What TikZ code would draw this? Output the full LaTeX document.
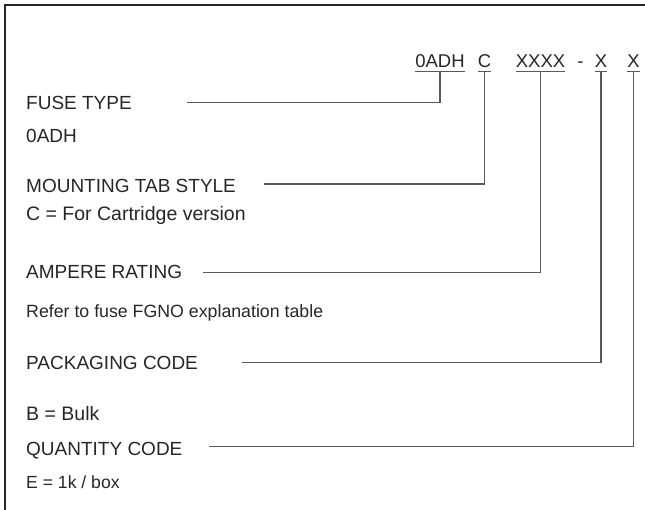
\documentclass[tikz,border=0pt]{standalone}
\usepackage{fontspec}
\setmainfont{Liberation Sans}
\usetikzlibrary{positioning,calc}

\tikzset{
  lbl/.style={anchor=base west, inner sep=0pt, text=black!85},
  part/.style={anchor=base, inner sep=0pt, text=black!85, font=\fontsize{18.5}{22}\selectfont},
  lead/.style={draw=black!65, line width=1.3pt},
}

\begin{document}
\begin{tikzpicture}[x=1pt,y=-1pt]
    \useasboundingbox (0,0) rectangle (645,510);
    \draw[line width=1.6pt, black!85] (5,510) -- (5,5) -- (645,5);

    % part number
    \node[part] (p1) at (440,68) {0ADH};
    \node[part] (p2) at (484.5,68) {C};
    \node[part] (p3) at (540.5,68) {XXXX};
    \node[part] (dash) at (580.5,68) {-};
    \node[part] (p4) at (601,68) {X};
    \node[part] (p5) at (633.5,68) {X};
    \foreach \p in {p1,p2,p3,p4,p5}
        \draw[lead] ([yshift=-3.5pt]\p.base west) -- ([yshift=-3.5pt]\p.base east);

    % field names
    \foreach \n/\y/\t in {ft/109.5/FUSE TYPE, mt/192.3/MOUNTING TAB STYLE, ar/278.3/AMPERE RATING, pc/369.3/PACKAGING CODE, qc/455/QUANTITY CODE}
        \node[lbl, font=\fontsize{19}{22}\selectfont] (\n) at (26,\y) {\t};
    % field values
    \foreach \n/\y/\s/\t in {ftd/143/19/0ADH, mtd/220.7/19.5/C = For Cartridge version, ard/318/17.75/Refer to fuse FGNO explanation table, pcd/420/19.5/B = Bulk, qcd/488/17.6/{E = 1k / box}}
        \node[lbl, font=\fontsize{\s}{22}\selectfont] (\n) at (26,\y) {\t};

    % leaders
    \coordinate (ftl) at (187,102.7);
    \coordinate (mtl) at (264,184);
    \coordinate (arl) at (203,272.7);
    \coordinate (pcl) at (242,362.3);
    \coordinate (qcl) at (209,446.7);
    \foreach \c/\p in {ftl/p1, mtl/p2, arl/p3, pcl/p4, qcl/p5}
        \draw[lead] (\c) -| ([yshift=-3.5pt]\p.base);
\end{tikzpicture}
\end{document}
